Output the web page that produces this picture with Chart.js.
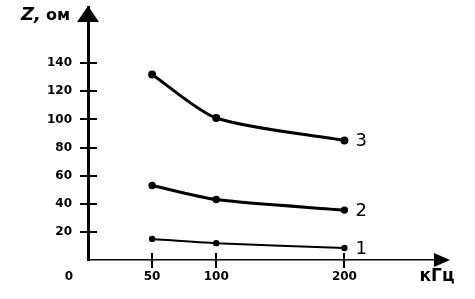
<!DOCTYPE html>
<html>
<head>
<meta charset="utf-8">
<script src="https://cdn.jsdelivr.net/npm/chart.js@4/dist/chart.umd.min.js"></script>
<style>
  html, body { margin: 0; padding: 0; background: #fff; }
  #wrap { width: 475px; height: 299px; }
</style>
</head>
<body>
<div id="wrap"><canvas id="chart"></canvas></div>
<script>
// частоты, кГц
var freq = [50, 100, 200];
var xTicks = [50, 100, 200];
var yTicks = [20, 40, 60, 80, 100, 120, 140];
// импеданс, Ом
var z1 = [15, 12, 8.5];
var z2 = [53, 43, 35.5];
var z3 = [132, 101, 85];
var curveNames = ['1', '2', '3'];

function pts(arr) {
    return freq.map(function(f, i) { return {x: f, y: arr[i]}; });
}

var font = 'DejaVu Sans';

var axesDeco = {
    id: 'axesDeco',
    afterDraw: function(chart) {
        var ctx = chart.ctx;
        var xs = chart.scales.x, ys = chart.scales.y;
        var x0 = xs.getPixelForValue(0), y0 = ys.getPixelForValue(0);
        ctx.save();
        ctx.fillStyle = '#000';
        ctx.strokeStyle = '#000';
        // y ticks
        ctx.lineWidth = 2;
        yTicks.forEach(function(v) {
            var y = Math.round(ys.getPixelForValue(v));
            ctx.beginPath();
            ctx.moveTo(x0 - 8, y);
            ctx.lineTo(x0 + 9, y);
            ctx.stroke();
        });
        // x ticks
        xTicks.forEach(function(v) {
            var x = Math.round(xs.getPixelForValue(v));
            ctx.beginPath();
            ctx.moveTo(x, y0 - 7);
            ctx.lineTo(x, y0 + 8);
            ctx.stroke();
        });
        // arrows
        var top = chart.chartArea.top;
        ctx.beginPath();
        ctx.moveTo(x0, top - 1);
        ctx.lineTo(x0 - 11, top + 15);
        ctx.lineTo(x0 + 11, top + 15);
        ctx.closePath();
        ctx.fill();
        var right = chart.chartArea.right;
        ctx.beginPath();
        ctx.moveTo(right + 3, y0);
        ctx.lineTo(right - 13, y0 - 7);
        ctx.lineTo(right - 13, y0 + 7);
        ctx.closePath();
        ctx.fill();
        // captions
        ctx.textBaseline = 'middle';
        ctx.textAlign = 'left';
        ctx.font = 'italic bold 18px ' + font;
        ctx.fillText('Z,', 21, 15);
        ctx.font = 'bold 16px ' + font;
        ctx.fillText('ом', 46, 16);
        ctx.font = 'bold 17px ' + font;
        ctx.textAlign = 'center';
        ctx.fillText('кГц', 437, 277);
        ctx.font = 'bold 12px ' + font;
        ctx.fillText('0', 69, 277);
        // curve numbers
        ctx.font = '18px ' + font;
        ctx.textAlign = 'left';
        [z1, z2, z3].forEach(function(arr, i) {
            var last = arr.length - 1;
            var x = xs.getPixelForValue(freq[last]);
            var y = ys.getPixelForValue(arr[last]);
            ctx.fillText(curveNames[i], x + 11, y + 1);
        });
        ctx.restore();
    }
};

new Chart(document.getElementById('chart'), {
    type: 'line',
    data: {
        datasets: [{
            data: pts(z1),
            borderColor: '#000',
            backgroundColor: '#000',
            borderWidth: 2,
            pointRadius: 2.2,
            tension: 0.2
        }, {
            data: pts(z2),
            borderColor: '#000',
            backgroundColor: '#000',
            borderWidth: 3,
            pointRadius: 2.2,
            tension: 0.25
        }, {
            data: pts(z3),
            borderColor: '#000',
            backgroundColor: '#000',
            borderWidth: 3,
            pointRadius: 2.5,
            tension: 0.25
        }]
    },
    options: {
        responsive: true,
        maintainAspectRatio: false,
        animation: false,
        layout: { padding: { top: 6, right: 28, left: 0, bottom: 0 } },
        plugins: { legend: { display: false }, tooltip: { enabled: false } },
        scales: {
            x: {
                type: 'linear',
                min: 0,
                max: 280,
                afterBuildTicks: function(axis) {
                    axis.ticks = xTicks.map(function(v) { return {value: v}; });
                },
                afterFit: function(axis) {
                    axis.height = 39;
                    axis.paddingLeft = 0;
                    axis.paddingRight = 0;
                },
                grid: { display: false, drawTicks: false },
                border: { display: true, color: '#000', width: 1.5 },
                ticks: {
                    color: '#000',
                    padding: 10,
                    maxRotation: 0,
                    autoSkip: false,
                    font: { family: font, size: 12, weight: 'bold' }
                }
            },
            y: {
                min: 0,
                max: 180,
                afterBuildTicks: function(axis) {
                    axis.ticks = yTicks.map(function(v) { return {value: v}; });
                },
                afterFit: function(axis) {
                    axis.width = 88;
                    axis.paddingTop = 0;
                    axis.paddingBottom = 0;
                },
                grid: { display: false, drawTicks: false },
                border: { display: true, color: '#000', width: 3 },
                ticks: {
                    color: '#000',
                    padding: 16,
                    font: { family: font, size: 12, weight: 'bold' }
                }
            }
        }
    },
    plugins: [axesDeco]
});
</script>
</body>
</html>
